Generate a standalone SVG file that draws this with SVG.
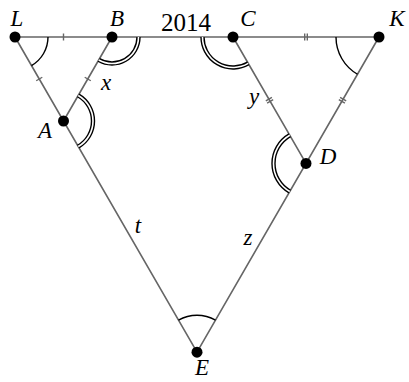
<svg xmlns="http://www.w3.org/2000/svg" xmlns:xlink="http://www.w3.org/1999/xlink" width="409" height="382" viewBox="0 0 409 382">
<style>
.ln{stroke:#666;stroke-width:1.6;fill:none;stroke-linecap:round}
.tk{stroke:#666;stroke-width:1.4;fill:none}
.a1{stroke:#000;stroke-width:1.4;fill:none}
.a2o{stroke:#000;stroke-width:4.4;fill:none}
.a2i{stroke:#fff;stroke-width:1.6;fill:none}
.pt{fill:#000}
.lb{font-family:"Liberation Serif",serif;font-style:italic;font-size:23px;fill:#000;text-anchor:middle}
.num{font-family:"Liberation Serif",serif;font-size:25px;fill:#000;text-anchor:middle}
</style>
<defs>
<g id="t1"><line class="tk" x1="0" y1="-3.5" x2="0" y2="3.5"/></g>
<g id="t2"><line class="tk" x1="-1.3" y1="-3.5" x2="-1.3" y2="3.5"/><line class="tk" x1="1.3" y1="-3.5" x2="1.3" y2="3.5"/></g>
</defs>
<rect width="409" height="382" fill="#fff"/>
<g id="connectors">
<line class="ln" x1="15" y1="37" x2="379" y2="37"/>
<line class="ln" x1="15" y1="37" x2="197" y2="352.2"/>
<line class="ln" x1="379" y1="37" x2="197" y2="352.2"/>
<line class="ln" x1="112" y1="37" x2="63.5" y2="121"/>
<line class="ln" x1="233" y1="37" x2="306" y2="163.4"/>
<use xlink:href="#t1" transform="translate(63.5,37)"/>
<use xlink:href="#t1" transform="translate(39.25,79) rotate(60)"/>
<use xlink:href="#t1" transform="translate(87.75,79) rotate(120)"/>
<use xlink:href="#t2" transform="translate(306,37)"/>
<use xlink:href="#t2" transform="translate(269.5,100.2) rotate(60)"/>
<use xlink:href="#t2" transform="translate(342.5,100.2) rotate(120)"/>
</g>
<g id="angles">
<path class="a1" d="M48,37 A33,33 0 0 1 31.5,65.58"/>
<path class="a1" d="M336,37 A43,43 0 0 0 357.5,74.24"/>
<path class="a1" d="M178.5,320.16 A37,37 0 0 1 215.5,320.16"/>
<path class="a2o" d="M138.5,37 A26.5,26.5 0 0 1 98.75,59.95"/>
<path class="a2i" d="M138.5,37 A26.5,26.5 0 0 1 98.75,59.95"/>
<path class="a2o" d="M78.25,95.45 A29.5,29.5 0 0 1 78.25,146.55"/>
<path class="a2i" d="M78.25,95.45 A29.5,29.5 0 0 1 78.25,146.55"/>
<path class="a2o" d="M248.25,63.41 A30.5,30.5 0 0 1 202.5,37"/>
<path class="a2i" d="M248.25,63.41 A30.5,30.5 0 0 1 202.5,37"/>
<path class="a2o" d="M289.75,191.55 A32.5,32.5 0 0 1 289.75,135.25"/>
<path class="a2i" d="M289.75,191.55 A32.5,32.5 0 0 1 289.75,135.25"/>
</g>
<g id="node-L"><circle class="pt" cx="15" cy="37" r="5.5"/><text class="lb" x="17" y="26">L</text></g>
<g id="node-B"><circle class="pt" cx="112" cy="37" r="5.5"/><text class="lb" x="117" y="26">B</text></g>
<g id="node-C"><circle class="pt" cx="233" cy="37" r="5.5"/><text class="lb" x="248" y="26">C</text></g>
<g id="node-K"><circle class="pt" cx="379" cy="37" r="5.5"/><text class="lb" x="397" y="26">K</text></g>
<g id="node-A"><circle class="pt" cx="63.5" cy="121" r="5.5"/><text class="lb" x="45" y="138">A</text></g>
<g id="node-D"><circle class="pt" cx="306" cy="163.4" r="5.5"/><text class="lb" x="328" y="164">D</text></g>
<g id="node-E"><circle class="pt" cx="197" cy="352.2" r="5.5"/><text class="lb" x="202" y="375">E</text></g>
<g id="labels">
<text class="num" x="186" y="31">2014</text>
<text class="lb" x="106" y="90">x</text>
<text class="lb" x="254" y="104">y</text>
<text class="lb" x="138" y="233">t</text>
<text class="lb" x="248" y="245">z</text>
</g>
</svg>
